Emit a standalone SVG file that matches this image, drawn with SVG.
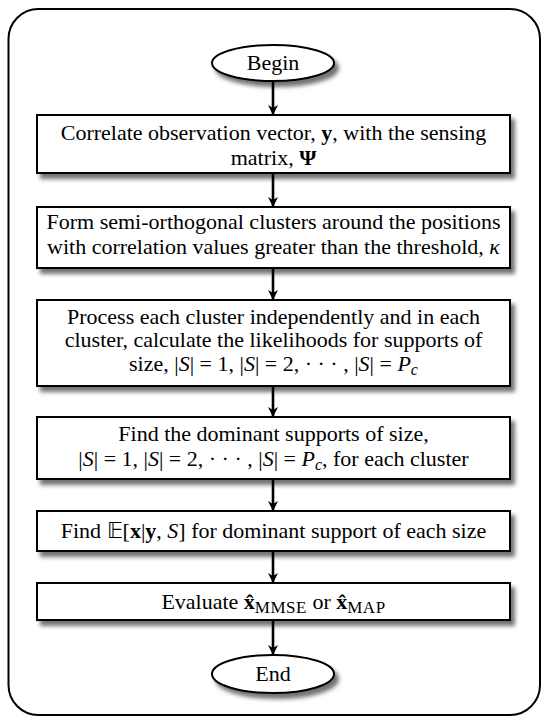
<svg xmlns="http://www.w3.org/2000/svg" width="542" height="717" viewBox="0 0 542 717">
<defs>
<style>
.box{fill:#fff;stroke:#000;stroke-width:2}
.t{font-family:"Liberation Serif","Times New Roman",serif;font-size:22px;fill:#000;text-anchor:middle}
.b{font-weight:bold}
.i{font-style:italic}
.c{stroke:#000;stroke-width:2.6;fill:none}
</style>
<filter id="sh" x="-10%" y="-20%" width="130%" height="160%">
<feOffset in="SourceAlpha" dx="4" dy="5" result="o"/>
<feGaussianBlur in="o" stdDeviation="2" result="b"/>
<feFlood flood-color="#000" flood-opacity="0.55"/>
<feComposite in2="b" operator="in" result="s"/>
<feMerge><feMergeNode in="s"/><feMergeNode in="SourceGraphic"/></feMerge>
</filter>
<marker id="ah" markerWidth="10" markerHeight="12" refX="9" refY="5" orient="auto" markerUnits="userSpaceOnUse">
<path d="M0,0 L10,5 L0,10 L3,5 Z" fill="#000"/>
</marker>
</defs>
<rect x="8.5" y="9" width="531.5" height="706" rx="30" ry="30" fill="none" stroke="#000" stroke-width="2"/>
<g id="connectors">
<line class="c" x1="273" y1="82" x2="273" y2="114" marker-end="url(#ah)"/>
<line class="c" x1="273" y1="173" x2="273" y2="206" marker-end="url(#ah)"/>
<line class="c" x1="273" y1="268" x2="273" y2="299" marker-end="url(#ah)"/>
<line class="c" x1="273" y1="386" x2="273" y2="416" marker-end="url(#ah)"/>
<line class="c" x1="273" y1="479" x2="273" y2="510" marker-end="url(#ah)"/>
<line class="c" x1="273" y1="551" x2="273" y2="582" marker-end="url(#ah)"/>
<line class="c" x1="273" y1="620" x2="273" y2="654" marker-end="url(#ah)"/>
</g>
<g id="begin">
<ellipse cx="273" cy="63" rx="61" ry="18" class="box" filter="url(#sh)"/>
<text class="t" x="273" y="70">Begin</text>
</g>
<g id="n1">
<rect x="37" y="115" width="473" height="58" class="box" filter="url(#sh)"/>
<text class="t" x="273.5" y="140">Correlate observation vector, <tspan class="b">y</tspan>, with the sensing</text>
<text class="t" x="273.5" y="165">matrix, <tspan class="b">Ψ</tspan></text>
</g>
<g id="n2">
<rect x="37" y="207" width="473" height="61" class="box" filter="url(#sh)"/>
<text class="t" x="273.5" y="229">Form semi-orthogonal clusters around the positions</text>
<text class="t" x="273.5" y="254">with correlation values greater than the threshold, <tspan class="i">κ</tspan></text>
</g>
<g id="n3">
<rect x="37" y="300" width="473" height="86" class="box" filter="url(#sh)"/>
<text class="t" x="273.5" y="324">Process each cluster independently and in each</text>
<text class="t" x="273.5" y="347">cluster, calculate the likelihoods for supports of</text>
<text class="t" x="273.5" y="371">size, |<tspan class="i">S</tspan>| = 1, |<tspan class="i">S</tspan>| = 2, · · · , |<tspan class="i">S</tspan>| = <tspan class="i">P</tspan><tspan class="i" font-size="16" dy="4">c</tspan></text>
</g>
<g id="n4">
<rect x="37" y="417" width="473" height="62" class="box" filter="url(#sh)"/>
<text class="t" x="273.5" y="441">Find the dominant supports of size,</text>
<text class="t" x="273.5" y="466">|<tspan class="i">S</tspan>| = 1, |<tspan class="i">S</tspan>| = 2, · · · , |<tspan class="i">S</tspan>| = <tspan class="i">P</tspan><tspan class="i" font-size="16" dy="4">c</tspan><tspan dy="-4">, for each cluster</tspan></text>
</g>
<g id="n5">
<rect x="37" y="511" width="473" height="40" class="box" filter="url(#sh)"/>
<text class="t" x="273.5" y="538">Find 𝔼[<tspan class="b">x</tspan>|<tspan class="b">y</tspan>, <tspan class="i">S</tspan>] for dominant support of each size</text>
</g>
<g id="n6">
<rect x="37" y="583" width="473" height="37" class="box" filter="url(#sh)"/>
<text class="t" x="273.5" y="609">Evaluate <tspan class="b">x̂</tspan><tspan font-size="17" dy="4" letter-spacing="0.5">MMSE</tspan><tspan dy="-4"> or </tspan><tspan class="b">x̂</tspan><tspan font-size="17" dy="4" letter-spacing="0.5">MAP</tspan></text>
</g>
<g id="end">
<ellipse cx="273" cy="674" rx="61" ry="19" class="box" filter="url(#sh)"/>
<text class="t" x="273" y="681">End</text>
</g>
</svg>
